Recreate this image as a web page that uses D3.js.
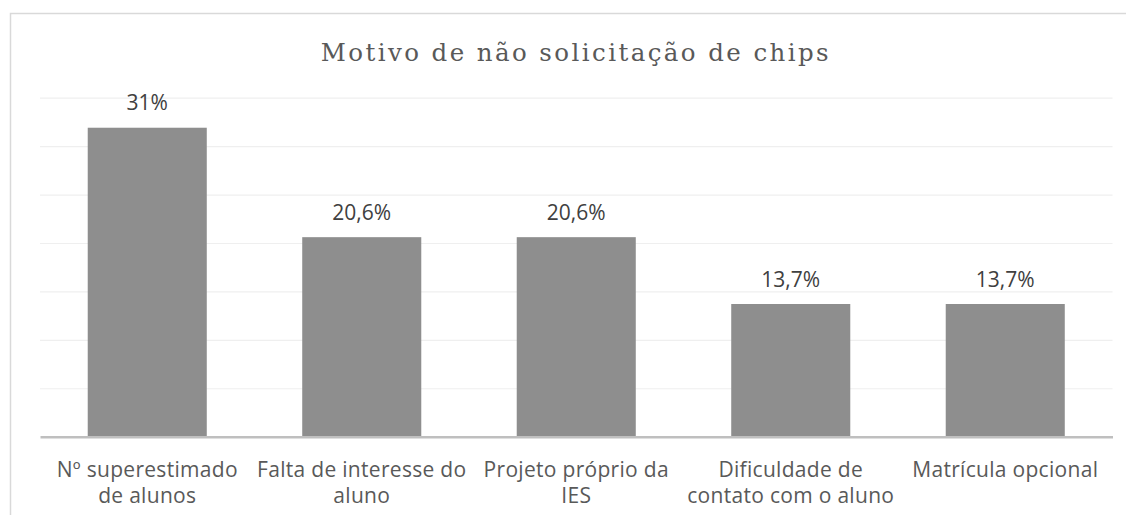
<!DOCTYPE html>
<html>
<head>
<meta charset="utf-8">
<script src="https://cdn.jsdelivr.net/npm/d3@7"></script>
<style>
  html, body { margin: 0; padding: 0; background: #fff; }
  svg { display: block; }
</style>
</head>
<body>
<svg id="chart" width="1126" height="515"></svg>
<script>
const title = "Motivo de não solicitação de chips";
const categories = [
  "Nº superestimado de alunos",
  "Falta de interesse do aluno",
  "Projeto próprio da IES",
  "Dificuldade de contato com o aluno",
  "Matrícula opcional"
];
const categoryLines = [
  ["Nº superestimado", "de alunos"],
  ["Falta de interesse do", "aluno"],
  ["Projeto próprio da", "IES"],
  ["Dificuldade de", "contato com o aluno"],
  ["Matrícula opcional"]
];
const values = [31.9, 20.6, 20.6, 13.7, 13.7];
const valueLabels = ["31%", "20,6%", "20,6%", "13,7%", "13,7%"];
const yTicks = [0, 5, 10, 15, 20, 25, 30, 35];

(function () {
const svg = d3.select("#chart");
const W = 1126, H = 515;
const pLeft = 40, pRight = 1112.5, pTop = 97.7, pBottom = 436.7;

svg.append("rect").attr("width", W).attr("height", H).attr("fill", "#fff");
svg.append("rect")
  .attr("x", 10.5).attr("y", 13.5)
  .attr("width", 1300).attr("height", 800)
  .attr("fill", "none").attr("stroke", "#d9d9d9").attr("stroke-width", 1.5);

const x = d3.scaleBand().domain(categories).range([pLeft, pRight])
  .paddingInner(0.445).paddingOuter(0.2225);
const y = d3.scaleLinear().domain([0, 35]).range([pBottom, pTop]);

// gridlines
const grid = svg.append("g").attr("transform", `translate(${pLeft},0)`)
  .call(d3.axisLeft(y).tickValues(yTicks.slice(1)).tickSize(-(pRight - pLeft)).tickFormat(""));
grid.select(".domain").remove();
grid.selectAll(".tick line").attr("stroke", "#efefef").attr("stroke-width", 1.2);

// bars
svg.append("g").selectAll("rect").data(values).join("rect")
  .attr("x", (d, i) => x(categories[i]))
  .attr("y", d => y(d))
  .attr("width", x.bandwidth())
  .attr("height", d => y(0) - y(d))
  .attr("fill", "#8e8e8e");

// baseline axis
const xAxis = svg.append("g").attr("transform", `translate(0,${pBottom})`)
  .call(d3.axisBottom(x).tickSize(0).tickSizeOuter(0).tickFormat(""));
xAxis.select(".domain").attr("stroke", "#bfbfbf").attr("stroke-width", 2.5);

// category labels
const labG = svg.append("g")
  .attr("font-family", "'Open Sans', sans-serif")
  .attr("font-size", 21).attr("letter-spacing", 0.3)
  .attr("fill", "#595959").attr("text-anchor", "middle");
categories.forEach((c, i) => {
  const cx = x(c) + x.bandwidth() / 2;
  const t = labG.append("text").attr("x", cx).attr("y", 476.7);
  categoryLines[i].forEach((ln, j) => {
    t.append("tspan").attr("x", cx).attr("dy", j === 0 ? 0 : 26).text(ln);
  });
});

// value labels
svg.append("g")
  .attr("font-family", "'Open Sans', sans-serif")
  .attr("font-size", 21).attr("fill", "#404040").attr("text-anchor", "middle")
  .selectAll("text").data(values).join("text")
  .attr("x", (d, i) => x(categories[i]) + x.bandwidth() / 2)
  .attr("y", d => y(d) - 17.5)
  .text((d, i) => valueLabels[i]);

// title
svg.append("text")
  .attr("x", 574.7).attr("y", 60.7)
  .attr("text-anchor", "middle")
  .attr("font-family", "'DejaVu Serif', serif")
  .attr("font-size", 24.5)
  .attr("fill", "#595959")
  .attr("textLength", 508)
  .attr("lengthAdjust", "spacing")
  .text(title);
})();
</script>
</body>
</html>
